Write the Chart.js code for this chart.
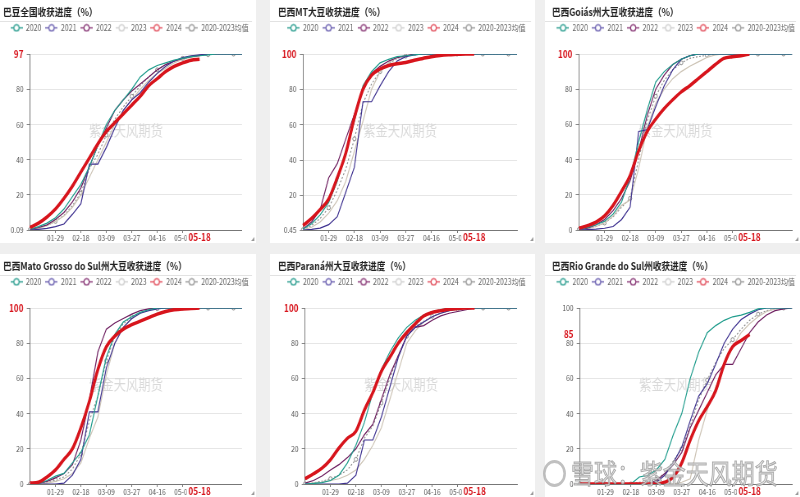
<!DOCTYPE html>
<html>
<head>
<meta charset="utf-8">
<script src="https://cdn.jsdelivr.net/npm/chart.js@4.4.1/dist/chart.umd.min.js"></script>
<style>
  html, body { margin: 0; padding: 0; width: 800px; height: 497px; overflow: hidden; background: #efefef; }
  .panel { position: absolute; background: #fff; overflow: hidden; }
  .panel canvas { display: block; }
  #xq { position: absolute; left: 543px; top: 457px; height: 32px; white-space: nowrap; z-index: 10;
        transform: scaleX(0.85); transform-origin: left center; font-family: "Noto Sans CJK SC", sans-serif; }
  #xq .logo { display: inline-block; width: 27px; height: 27px; border: 3px solid rgba(165,165,165,0.7);
              border-radius: 50%; vertical-align: middle; margin-right: 6px; box-sizing: border-box; }
  #xq .txt { font-size: 27px; line-height: 32px; vertical-align: middle; color: rgba(225,225,225,0.8);
             -webkit-text-stroke: 1px rgba(135,135,135,0.65); }
</style>
</head>
<body>
<div id="xq"><span class="logo"></span><span class="txt">雪球：紫金天风期货</span></div>
<script>
const dates = ['01-08','01-15','01-22','01-29','02-05','02-12','02-18','02-25','03-03','03-09','03-15','03-21','03-27',
               '04-03','04-10','04-16','04-23','04-30','05-07','05-12','05-18','05-25','06-01','06-08','06-15','06-22'];
const seriesNames = ['2020', '2021', '2022', '2023', '2024', '2020-2023均值'];
const titles = [
  '巴豆全国收获进度（%）',
  '巴西MT大豆收获进度（%）',
  '巴西Goiás州大豆收获进度（%）',
  '巴西Mato Grosso do Sul州大豆收获进度（%）',
  '巴西Paraná州大豆收获进度（%）',
  '巴西Rio Grande do Sul州收获进度（%）'
];

// 全国
const nat2020 = [0.5, 2, 4, 7, 12, 19, 26, 36, 48, 60, 68, 74, 80, 87, 91, 93.5, 95, 96.5, 97.5, 98.5, 99, 99.5, 100, 100, 100, 100];
const nat2021 = [0.09, 0.5, 1, 2, 3.5, 9, 15, 37.5, 37.5, 47, 58, 68, 74, 78, 84, 89, 93, 96, 98, 99, 99.5, 100, 100, 100, 100, 100];
const nat2022 = [0.3, 1.5, 3, 6, 10, 16, 24, 36, 48, 58, 68, 74, 79, 83, 87, 91, 94, 96, 97.5, 98.5, 99.2, 100, 100, 100, 100, 100];
const nat2023 = [0.2, 1, 2.5, 5, 8, 13, 20, 30, 40, 50, 60, 68, 74, 80, 85, 89, 92, 95, 97, 98, 99, 100, 100, 100, 100, 100];
const nat2024 = [1.5, 4, 7.5, 12, 18, 25, 33, 41, 49, 56, 61, 66, 71, 76, 82, 86, 90, 93, 95, 96.5, 97];
const natAvg  = [0.3, 1.2, 2.6, 5, 8.4, 14, 21, 35, 43, 54, 63, 70, 76, 82, 87, 91, 94, 96, 97.5, 98.5, 99, 99.6, 100, 100, 100, 100];

// MT
const mt2020 = [1, 4, 9, 16, 28, 45, 62, 82, 90, 95, 97, 98.5, 99, 99.5, 100, 100, 100, 100, 100, 100, 100, 100, 100, 100, 100, 100];
const mt2021 = [0.45, 0.8, 1.5, 3.5, 8, 22, 36, 73, 73, 82, 90, 96, 98.5, 99.5, 100, 100, 100, 100, 100, 100, 100, 100, 100, 100, 100, 100];
const mt2022 = [1, 5, 12, 30, 38, 52, 66, 80, 89, 93, 96, 98, 99, 100, 100, 100, 100, 100, 100, 100, 100, 100, 100, 100, 100, 100];
const mt2023 = [0.5, 2, 5, 10, 17, 28, 45, 62, 80, 90, 95, 98, 99, 100, 100, 100, 100, 100, 100, 100, 100, 100, 100, 100, 100, 100];
const mt2024 = [3, 7, 12, 18, 30, 44, 64, 80, 88, 91.5, 93.5, 94.5, 95.2, 96.5, 97.5, 98.5, 99.2, 99.6, 99.8, 100, 100];
const mtAvg  = [0.6, 3, 7, 13, 23, 35, 52, 72, 83, 90, 94.5, 97.5, 98.8, 99.5, 100, 100, 100, 100, 100, 100, 100, 100, 100, 100, 100, 100];

// Goiás
const go2020 = [0.5, 1.5, 3, 5, 9, 16, 30, 50, 68, 84, 90, 94, 97, 99, 100, 100, 100, 100, 100, 100, 100, 100, 100, 100, 100, 100];
const go2021 = [0, 0.2, 0.5, 1, 2, 6, 13, 56, 57, 70, 82, 91, 97, 99, 100, 100, 100, 100, 100, 100, 100, 100, 100, 100, 100, 100];
const go2022 = [0.3, 1, 3, 6, 11, 18, 28, 45, 65, 80, 88, 94, 97, 99, 100, 100, 100, 100, 100, 100, 100, 100, 100, 100, 100, 100];
const go2023 = [0.2, 1, 2, 4, 8, 14, 17, 35, 58, 72, 80, 86, 90, 93, 95.5, 98, 99.5, 100, 100, 100, 100, 100, 100, 100, 100, 100];
const go2024 = [1, 2.5, 4.5, 8, 14, 22, 31, 45, 56, 63, 69, 74, 78.5, 82, 86, 90, 94, 97.5, 98.5, 99, 100];
const goAvg  = [0.3, 0.8, 2, 4, 7.5, 13, 18, 40, 62, 76, 85, 91, 95, 97.5, 98.5, 99.3, 100, 100, 100, 100, 100, 100, 100, 100, 100, 100];

// Mato Grosso do Sul
const ms2020 = [0, 0.2, 2, 4.5, 6, 12, 18, 28, 50, 72, 85, 92, 95, 97.5, 99, 100, 100, 100, 100, 100, 100, 100, 100, 100, 100, 100];
const ms2021 = [0, 0, 0, 0, 0.5, 5, 14, 41, 41, 66, 80, 89, 94, 97, 98.5, 99.5, 100, 100, 100, 100, 100, 100, 100, 100, 100, 100];
const ms2022 = [0, 0.5, 1.5, 3.5, 6, 11, 25, 48, 75, 88, 91.5, 94, 96.5, 98.5, 99.5, 100, 100, 100, 100, 100, 100, 100, 100, 100, 100, 100];
const ms2023 = [0, 0, 0.5, 1.5, 3, 6, 12, 26, 38, 62, 80, 89, 94, 97, 99, 100, 100, 100, 100, 100, 100, 100, 100, 100, 100, 100];
const ms2024 = [0.5, 1, 4, 8, 14, 20, 32, 47, 65, 78, 84, 88, 90.5, 92.5, 94.5, 96.5, 98, 99, 99.5, 99.7, 100];
const msAvg  = [0, 0.2, 1, 2.5, 4, 8.5, 17, 36, 50, 70, 84, 91, 95, 97.5, 99, 99.6, 100, 100, 100, 100, 100, 100, 100, 100, 100, 100];

// Paraná
const pr2020 = [0, 0.3, 0.8, 2, 5, 12, 22, 35, 52, 65, 75, 83, 89, 93, 96, 98, 99, 100, 100, 100, 100, 100, 100, 100, 100, 100];
const pr2021 = [0, 0, 0, 0, 0, 0.5, 5, 25, 25, 38, 55, 72, 84, 89, 92, 95, 97, 98.5, 99.5, 100, 100, 100, 100, 100, 100, 100];
const pr2022 = [0.5, 2, 4.5, 8, 11, 15, 20, 28, 34, 48, 62, 73, 84, 89, 90, 93, 95.5, 97, 98, 99, 100, 100, 100, 100, 100, 100];
const pr2023 = [0, 0.5, 1, 2, 3, 5, 8, 14, 22, 32, 48, 64, 80, 87, 92, 95, 97, 98.5, 99.5, 100, 100, 100, 100, 100, 100, 100];
const pr2024 = [3, 5.8, 9, 13.8, 20.5, 26, 30, 42, 52, 64, 72, 80, 86, 91, 95.5, 97.5, 98.5, 99.3, 99.7, 100, 100];
const prAvg  = [0.1, 0.7, 1.6, 3, 5, 8, 14, 26, 33, 46, 60, 73, 84, 89.5, 92.5, 95.3, 97.2, 98.5, 99.3, 99.7, 100, 100, 100, 100, 100, 100];

// Rio Grande do Sul
const rs2020 = [0, 0, 0, 0, 0, 0, 0, 4, 5, 8, 14, 28, 40, 60, 75, 86, 90, 93, 95, 96, 97.5, 99.5, 100, 100, 100, 100];
const rs2021 = [0, 0, 0, 0, 0, 0, 0, 0, 0, 1, 5, 12, 21, 36, 50, 57, 68, 80, 88, 93.5, 96.5, 99, 100, 100, 100, 100];
const rs2022 = [0, 0, 0, 0, 0, 0, 0, 0, 0, 2, 6, 11, 18, 32, 42, 52, 62, 68, 68, 77, 86, 92, 96, 98.5, 99.5, 100];
const rs2023 = [0, 0, 0, 0, 0, 0, 0, 0, 0, 0, 0, 0, 1, 3, 25, 42, 55, 68, 78, 86, 91, 95, 98, 99.5, 100, 100];
const rs2024 = [0, 0, 0, 0, 0, 0, 0, 0, 0, 0, 1, 4, 12, 25, 36, 44, 53, 68, 78, 81.5, 85];
const rsAvg  = [0, 0, 0, 0, 0, 0, 0, 1, 1.3, 2.7, 6, 13, 20, 33, 48, 59, 69, 77, 82, 88, 93, 96.5, 98.5, 99.5, 100, 100];

const panelSeries = [
  [nat2020, nat2021, nat2022, nat2023, nat2024, natAvg],
  [mt2020, mt2021, mt2022, mt2023, mt2024, mtAvg],
  [go2020, go2021, go2022, go2023, go2024, goAvg],
  [ms2020, ms2021, ms2022, ms2023, ms2024, msAvg],
  [pr2020, pr2021, pr2022, pr2023, pr2024, prAvg],
  [rs2020, rs2021, rs2022, rs2023, rs2024, rsAvg]
];

// layout (px, relative to each panel)
const SX = 0.82;
const panels = [
  { left: 0,   top: 0,   w: 256, h: 243, inset: 3, plotL: 30, plotR: 242 },
  { left: 270, top: 0,   w: 265, h: 243, inset: 8, plotL: 33, plotR: 247 },
  { left: 545, top: 0,   w: 255, h: 243, inset: 7, plotL: 34, plotR: 247 },
  { left: 0,   top: 254, w: 256, h: 243, inset: 3, plotL: 30, plotR: 242 },
  { left: 270, top: 254, w: 265, h: 243, inset: 8, plotL: 35, plotR: 247 },
  { left: 545, top: 254, w: 255, h: 243, inset: 7, plotL: 35, plotR: 247 }
];

const FONT = '"Noto Sans CJK SC", "Noto Sans", sans-serif';
const RED = '#d7141c';
const colors = ['#1f9c8c', '#3d308f', '#6d1d5f', '#cdc4b6', RED, '#8a8a8a'];
const iconColors = ['#2a9d8f', '#6a5fb0', '#8a3a78', '#cfcfcf', '#e2505e', '#9a9a9a'];

Chart.defaults.font.family = FONT;

function legendIcon(color) {
  const c = document.createElement('canvas');
  c.width = 15; c.height = 9;
  const g = c.getContext('2d');
  g.strokeStyle = color; g.lineWidth = 1.3;
  g.beginPath(); g.moveTo(0, 4.5); g.lineTo(15, 4.5); g.stroke();
  g.beginPath(); g.arc(7.5, 4.5, 3.2, 0, Math.PI * 2);
  g.fillStyle = '#fff'; g.fill(); g.stroke();
  return c;
}
const icons = iconColors.map(legendIcon);

const decor = {
  id: 'decor',
  beforeDatasetsDraw(chart) {
    const { ctx, chartArea } = chart;
    ctx.save();
    ctx.font = '15px ' + FONT;
    ctx.fillStyle = '#d9d9d9';
    ctx.textAlign = 'center';
    ctx.textBaseline = 'middle';
    ctx.fillText('紫金天风期货', (chartArea.left + chartArea.right) / 2 - 10 / SX, (chartArea.top + chartArea.bottom) / 2 - 12);
    ctx.restore();
  },
  afterDraw(chart, args, opts) {
    const { ctx, chartArea } = chart;
    ctx.save();
    // title rule
    ctx.strokeStyle = '#e2e2e2';
    ctx.lineWidth = 1;
    ctx.beginPath(); ctx.moveTo(0, 21.5); ctx.lineTo(chart.width - 4 / SX, 21.5); ctx.stroke();
    // current date marker under the axis
    const meta = chart.getDatasetMeta(4);
    const pt = meta.data[meta.data.length - 1];
    ctx.font = 'bold 10px ' + FONT;
    const tw = ctx.measureText(opts.text).width;
    const y = chartArea.bottom + 2;
    ctx.fillStyle = '#fff';
    ctx.fillRect(pt.x - tw / 2 - 2, y, tw + 4, 11);
    ctx.fillStyle = RED;
    ctx.textAlign = 'center';
    ctx.textBaseline = 'top';
    ctx.fillText(opts.text, pt.x, y);
    // corner mark
    ctx.fillStyle = '#999';
    ctx.beginPath();
    ctx.moveTo(chart.width - 2, chart.height - 6);
    ctx.lineTo(chart.width - 2, chart.height - 2);
    ctx.lineTo(chart.width - 6, chart.height - 2);
    ctx.fill();
    ctx.restore();
  }
};

function fmt(v) { return String(Math.round(v * 100) / 100); }

panels.forEach((p, idx) => {
  const wrap = document.createElement('div');
  wrap.className = 'panel';
  Object.assign(wrap.style, { left: p.left + 'px', top: p.top + 'px', width: p.w + 'px', height: p.h + 'px' });
  const cv = document.createElement('canvas');
  cv.width = Math.round(p.w / SX);
  cv.height = p.h;
  cv.style.width = p.w + 'px';
  cv.style.height = p.h + 'px';
  wrap.appendChild(cv);
  document.body.appendChild(wrap);

  const series = panelSeries[idx];
  const cur = series[4];
  const lastIdx = cur.length - 1;
  const lastVal = cur[lastIdx];
  const yMin = Math.min(...series.flat());
  const redVal = lastVal >= 95 ? 100 : lastVal;
  const yTicks = [yMin, 20, 40, 60, 80, 100];
  if (redVal !== 100) yTicks.splice(5, 0, redVal);
  const isRed = c => c.tick && c.tick.value === redVal;
  const isExtra = c => isRed(c) && redVal !== 100;

  new Chart(cv, {
    type: 'line',
    data: {
      labels: dates,
      datasets: series.map((d, k) => ({
        label: seriesNames[k],
        data: d,
        borderColor: colors[k],
        backgroundColor: colors[k],
        borderWidth: k === 4 ? 3.5 : (k === 5 ? 1.1 : 1.2),
        borderDash: k === 5 ? [2, 2] : [],
        tension: k === 4 ? 0.3 : 0,
        cubicInterpolationMode: k === 4 ? 'monotone' : 'default',
        pointRadius: k === 5 ? (c => c.dataIndex % 3 === 0 ? 2 : 0) : 0,
        pointBackgroundColor: '#fff',
        pointBorderColor: colors[k],
        pointBorderWidth: 1,
        order: k === 4 ? -1 : k,
        fill: false
      }))
    },
    options: {
      responsive: false,
      animation: false,
      events: [],
      layout: { padding: { left: p.inset / SX, right: 0, top: 0, bottom: 0 } },
      plugins: {
        title: {
          display: true, text: titles[idx], align: 'start', color: '#222',
          font: { family: FONT, size: 10.5, weight: 'bold' }, padding: { top: 6, bottom: 0 }
        },
        legend: {
          display: true, weight: 1800,
          labels: {
            usePointStyle: true, pointStyleWidth: 14.6, boxHeight: 8.5, padding: 5, color: '#666',
            font: { family: FONT, size: 8.5 },
            generateLabels(chart) {
              const items = Chart.defaults.plugins.legend.labels.generateLabels(chart);
              items.sort((a, b) => a.datasetIndex - b.datasetIndex);
              items.forEach(it => { it.pointStyle = icons[it.datasetIndex]; });
              return items;
            }
          }
        },
        subtitle: { display: true, text: ' ', font: { size: 1 }, padding: { top: 10.7, bottom: 0 } },
        tooltip: { enabled: false },
        decor: { text: dates[lastIdx] }
      },
      scales: {
        x: {
          type: 'category',
          afterFit: s => { s.height = 13; },
          afterBuildTicks: s => { s.ticks = s.ticks.filter(t => t.value % 3 === 0 && t.value > 0 && t.value < lastIdx); },
          border: { display: true, color: '#777' },
          grid: { display: true, drawOnChartArea: false, tickLength: 3, color: '#777' },
          ticks: { autoSkip: false, maxRotation: 0, padding: 0, color: '#555', font: { family: FONT, size: 8 } }
        },
        y: {
          min: yMin, max: 100,
          afterFit: s => { s.width = (p.plotL - p.inset) / SX; },
          afterBuildTicks: s => { s.ticks = yTicks.map(v => ({ value: v })); },
          border: { display: true, color: '#777' },
          grid: {
            color: c => isExtra(c) ? 'rgba(0,0,0,0)' : '#e6e6e6',
            tickColor: c => isExtra(c) ? 'rgba(0,0,0,0)' : '#888',
            tickLength: 4
          },
          ticks: {
            padding: 4,
            color: c => isRed(c) ? RED : '#555',
            font: c => isRed(c) ? { family: FONT, size: 10, weight: 'bold' } : { family: FONT, size: 8 },
            callback: v => v === redVal ? String(lastVal) : fmt(v)
          }
        },
        gap: {
          type: 'linear', position: 'right', display: true,
          afterFit: s => { s.width = (p.w - p.plotR) / SX; },
          ticks: { display: false },
          grid: { display: false, drawOnChartArea: false },
          border: { display: false }
        }
      }
    },
    plugins: [decor]
  });
});
</script>
</body>
</html>
